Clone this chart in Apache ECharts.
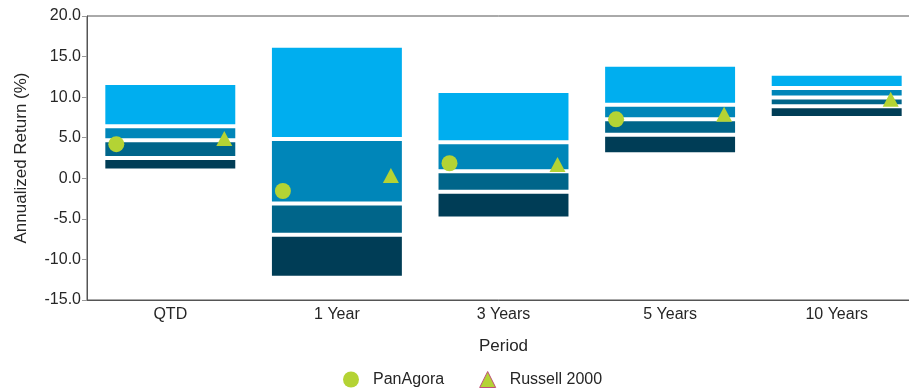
<!DOCTYPE html>
<html>
<head>
<meta charset="utf-8">
<script src="https://cdn.jsdelivr.net/npm/echarts@6/dist/echarts.min.js"></script>
<style>
  html, body { margin: 0; padding: 0; background: #fff; }
  #chart { width: 909px; height: 388px; }
</style>
</head>
<body>
<div id="chart"></div>
<script>
const periods = ['QTD', '1 Year', '3 Years', '5 Years', '10 Years'];

// percentile band edges, top to bottom
const pct95 = [11.5, 16.1, 10.5, 13.75, 12.65];
const pct75 = [6.4, 4.85, 4.45, 9.07, 11.13];
const pct50 = [4.7, -3.1, 0.86, 7.27, 9.96];
const pct25 = [2.5, -6.95, -1.65, 5.37, 8.87];
const pct5 = [1.2, -12.0, -4.7, 3.2, 7.68];

const panAgora = [4.2, -1.57, 1.85, 7.27, null];
const russell2000 = [4.9, 0.35, 1.7, 7.9, 9.75];

const bandColors = ['#00AEEF', '#0086B9', '#00658A', '#003D56'];
const lime = '#B4D334';

// rows: [category index, low, high, band]
const bands = [];
periods.forEach((p, i) => {
  const edges = [pct95[i], pct75[i], pct50[i], pct25[i], pct5[i]];
  for (let s = 0; s < 4; s++) {
    bands.push([i, edges[s + 1], edges[s], s]);
  }
});

const chart = echarts.init(document.getElementById('chart'));

const labelColor = '#262626';
const font = 'Liberation Sans, Arial, sans-serif';

chart.setOption({
  animation: false,
  grid: {
    left: 87,
    width: 833,
    top: 16,
    bottom: 88,
    outerBoundsMode: 'none',
    containLabel: false,
    show: true,
    borderColor: '#555',
    borderWidth: 1
  },
  legend: {
    top: 366,
    left: 338,
    itemWidth: 16,
    itemHeight: 16,
    itemGap: 35,
    textStyle: { fontSize: 16, color: labelColor, fontFamily: font, padding: [0, 0, 0, 9] },
    data: [
      { name: 'PanAgora' },
      { name: 'Russell 2000', itemStyle: { borderColor: '#C0507A', borderWidth: 1 } }
    ]
  },
  xAxis: {
    type: 'category',
    data: periods,
    name: 'Period',
    nameLocation: 'middle',
    nameGap: 38,
    nameTextStyle: { fontSize: 17, color: labelColor, fontFamily: font },
    axisLine: { onZero: false, lineStyle: { color: '#555' } },
    axisTick: { show: false },
    axisLabel: { fontSize: 16, color: labelColor, fontFamily: font, margin: 7 }
  },
  yAxis: {
    type: 'value',
    min: -15,
    max: 20,
    interval: 5,
    name: 'Annualized Return (%)',
    nameLocation: 'middle',
    nameGap: 57,
    nameTextStyle: { fontSize: 17, color: labelColor, fontFamily: font },
    splitLine: { show: false },
    axisLine: { show: true, lineStyle: { color: '#555' } },
    axisTick: { show: true, length: 5, lineStyle: { color: '#999' } },
    axisLabel: {
      fontSize: 16, color: labelColor, fontFamily: font, margin: 6,
      formatter: v => v.toFixed(1)
    }
  },
  series: [
    {
      type: 'custom',
      name: 'range',
      data: bands,
      encode: { x: 0, y: [1, 2] },
      renderItem: (params, api) => {
        const cat = api.value(0);
        const lo = api.value(1);
        const hi = api.value(2);
        const seg = api.value(3);
        const top = api.coord([cat, hi]);
        const bot = api.coord([cat, lo]);
        const w = api.size([1, 0])[0] * 0.78;
        const y0 = top[1] + (seg > 0 ? 2 : 0);
        const y1 = bot[1] - (seg < 3 ? 2 : 0);
        return {
          type: 'rect',
          shape: { x: top[0] - w / 2, y: y0, width: w, height: y1 - y0 },
          style: { fill: bandColors[seg] }
        };
      }
    },
    {
      type: 'scatter',
      name: 'PanAgora',
      data: panAgora,
      symbol: 'circle',
      symbolSize: 16,
      symbolOffset: [-54, 0],
      itemStyle: { color: lime, opacity: 1 },
      z: 5
    },
    {
      type: 'scatter',
      name: 'Russell 2000',
      data: russell2000,
      symbol: 'triangle',
      symbolSize: [16, 15],
      symbolOffset: [54, 0],
      itemStyle: { color: lime, opacity: 1 },
      z: 5
    }
  ]
});
</script>
</body>
</html>
